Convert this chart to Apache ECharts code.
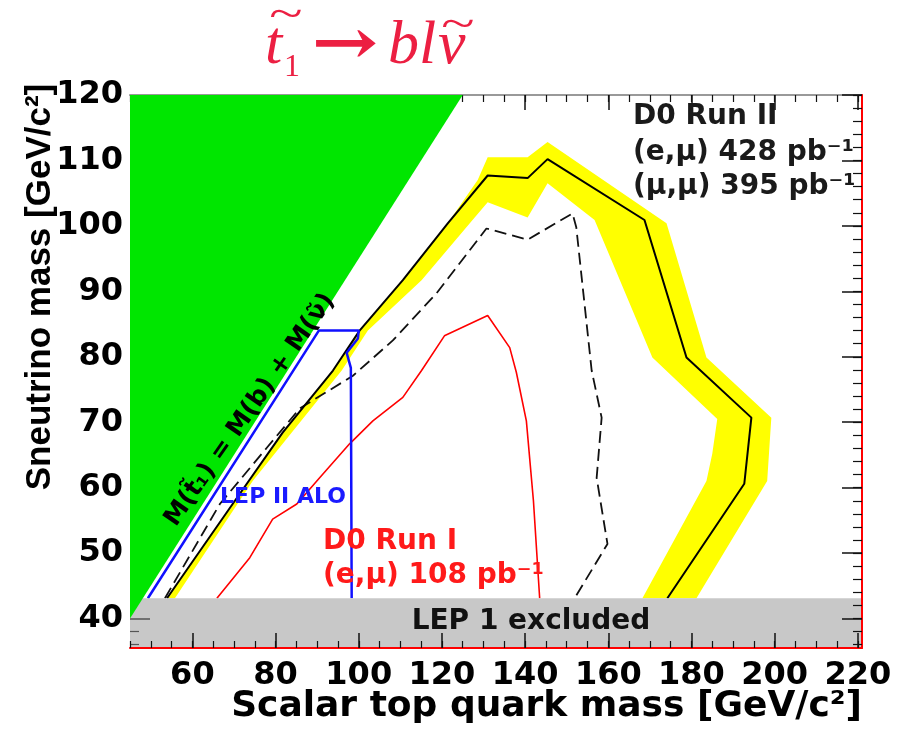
<!DOCTYPE html>
<html><head><meta charset="utf-8">
<script src="https://cdn.jsdelivr.net/npm/echarts@6/dist/echarts.min.js"></script>
<style>html,body{margin:0;padding:0;background:#fff}#c{width:897px;height:731px}</style>
</head><body><div id="c"></div>
<script>
// ---- axis ticks / labels ----
const xTickLabels = [60, 80, 100, 120, 140, 160, 180, 200, 220];
const xMinorTicks = [45, 50, 55, 60, 65, 70, 75, 80, 85, 90, 95, 100, 105, 110, 115, 120, 125, 130, 135, 140, 145, 150, 155, 160, 165, 170, 175, 180, 185, 190, 195, 200, 205, 210, 215, 220];
const yTickLabels = [40, 50, 60, 70, 80, 90, 100, 110, 120];
const yMinorTicks = [36, 38, 40, 42, 44, 46, 48, 50, 52, 54, 56, 58, 60, 62, 64, 66, 68, 70, 72, 74, 76, 78, 80, 82, 84, 86, 88, 90, 92, 94, 96, 98, 100, 102, 104, 106, 108, 110, 112, 114, 116, 118, 120];
const yLeftMajorTicks = [40];
const yLeftMinorTicks = [36, 38];

// ---- regions and contours (stop mass, sneutrino mass) ----
const kinematicRegion = [[45, 40], [45, 120], [125, 120]];
const lep1Band = [[45, 35.5], [221, 35.5], [221, 43.1], [45, 43.1]];
const lep2Contour = [[49.3, 43.1], [90.4, 84.0], [100.0, 84.0], [99.8, 82.8], [97.1, 80.6], [98.1, 78.3], [98.3, 43.1]];
const run2Solid = [[53.9, 43.1], [69.0, 56.9], [81.7, 68.4], [93.8, 77.9], [100.2, 84.0], [110.6, 91.7], [121.4, 100.4], [131.0, 107.7], [140.6, 107.3], [145.4, 110.2], [168.7, 100.9], [178.8, 79.9], [194.4, 70.7], [192.7, 60.6], [174.2, 43.1]];
const run2BandOuter = [[53.9, 43.1], [69.0, 56.9], [81.7, 68.4], [93.8, 77.9], [100.2, 84.0], [110.6, 91.7], [121.4, 100.4], [128.6, 107.0], [131.0, 110.5], [140.6, 110.5], [145.4, 112.8], [174.0, 100.4], [183.6, 79.9], [199.2, 70.7], [198.2, 61.0], [181.2, 43.1]];
const run2BandInner = [[168.2, 43.1], [183.6, 61.0], [185.0, 65.2], [186.2, 70.5], [170.6, 79.9], [156.7, 100.9], [145.4, 106.5], [140.6, 101.3], [131.0, 103.6], [126.7, 100.4], [115.1, 91.7], [102.2, 84.0], [95.9, 77.9], [74.5, 61.0], [55.8, 43.1]];
const run2Dashed = [[53.4, 43.1], [66.6, 57.5], [77.9, 66.1], [85.8, 72.1], [98.6, 77.1], [108.2, 82.5], [118.7, 89.7], [130.7, 99.6], [140.6, 97.9], [151.4, 101.9], [152.3, 99.8], [156.0, 77.9], [158.4, 70.7], [157.2, 61.5], [159.8, 51.4], [151.9, 43.1]];
const run1Contour = [[65.9, 43.1], [73.8, 49.3], [79.3, 55.2], [85.1, 57.5], [90.6, 61.5], [97.8, 66.7], [103.4, 70.2], [110.6, 73.8], [115.1, 77.9], [120.6, 83.2], [131.0, 86.3], [136.3, 81.4], [137.9, 77.6], [140.3, 70.2], [142.0, 58.0], [143.5, 43.1]];

const chart = echarts.init(document.getElementById('c'), null, {renderer: 'canvas'});

function polygonSeries(points, color, z) {
  return {
    type: 'custom', coordinateSystem: 'cartesian2d', z: z, silent: true, clip: true,
    data: points,
    renderItem: function (params, api) {
      if (params.dataIndex !== 0) return null;
      return {type: 'polygon', shape: {points: points.map(p => api.coord(p))}, style: {fill: color}};
    }
  };
}
function lineSeries(points, color, width, type, z) {
  return {
    type: 'line', data: points, symbol: 'none', silent: true, z: z, animation: false,
    lineStyle: {color: color, width: width, type: type}
  };
}

const bold = {fontFamily: 'DejaVu Sans', fontWeight: 'bold'};
const baseX = {type: 'value', min: 45, max: 221, splitLine: {show: false}};
const baseY = {type: 'value', min: 35.5, max: 120, splitLine: {show: false}};
const tickColor = '#111';

const option = {
  animation: false,
  backgroundColor: '#fff',
  grid: {left: 130, right: 35, top: 95, bottom: 83, show: false},
  xAxis: [
    Object.assign({}, baseX, {position: 'bottom', z: 10,
      axisLine: {show: true, lineStyle: {color: '#ff0000', width: 2}},
      axisTick: {show: true, inside: true, length: 15, customValues: xTickLabels, lineStyle: {color: tickColor, width: 1.5}},
      axisLabel: Object.assign({customValues: xTickLabels, fontSize: 32, color: '#000', margin: 12}, bold)}),
    Object.assign({}, baseX, {position: 'bottom', z: 10,
      axisLine: {show: false},
      axisTick: {show: true, inside: true, length: 7, customValues: xMinorTicks, lineStyle: {color: tickColor, width: 1.2}},
      axisLabel: {show: false}}),
    Object.assign({}, baseX, {position: 'top', z: 0,
      axisLine: {show: true, lineStyle: {color: '#999', width: 2}},
      axisTick: {show: true, inside: true, length: 15, customValues: xTickLabels, lineStyle: {color: tickColor, width: 1.5}},
      axisLabel: {show: false}}),
    Object.assign({}, baseX, {position: 'top', z: 0,
      axisLine: {show: false},
      axisTick: {show: true, inside: true, length: 7, customValues: xMinorTicks, lineStyle: {color: tickColor, width: 1.2}},
      axisLabel: {show: false}})
  ],
  yAxis: [
    Object.assign({}, baseY, {position: 'left', z: 10,
      axisLine: {show: false},
      axisTick: {show: true, inside: true, length: 20, customValues: yLeftMajorTicks, lineStyle: {color: '#555', width: 1.5}},
      axisLabel: Object.assign({customValues: yTickLabels, fontSize: 32, color: '#000', margin: 7, padding: [21, 0, 0, 0]}, bold)}),
    Object.assign({}, baseY, {position: 'left', z: 10,
      axisLine: {show: false},
      axisTick: {show: true, inside: true, length: 9, customValues: yLeftMinorTicks, lineStyle: {color: '#555', width: 1.2}},
      axisLabel: {show: false}}),
    Object.assign({}, baseY, {position: 'right', z: 10,
      axisLine: {show: true, lineStyle: {color: '#ff0000', width: 2}},
      axisTick: {show: true, inside: true, length: 20, customValues: yTickLabels, lineStyle: {color: tickColor, width: 1.5}},
      axisLabel: {show: false}}),
    Object.assign({}, baseY, {position: 'right', z: 10,
      axisLine: {show: false},
      axisTick: {show: true, inside: true, length: 9, customValues: yMinorTicks, lineStyle: {color: tickColor, width: 1.2}},
      axisLabel: {show: false}})
  ],
  series: [
    polygonSeries(run2BandOuter.concat(run2BandInner), '#ffff00', 1),
    lineSeries(run1Contour, '#ff0000', 1.6, 'solid', 2),
    lineSeries(run2Dashed, '#111', 1.8, [12, 6], 2),
    lineSeries(run2Solid, '#000', 2, 'solid', 2),
    lineSeries(lep2Contour, '#1010ff', 2.5, 'solid', 3),
    polygonSeries(lep1Band, '#c8c8c8', 4),
    polygonSeries(kinematicRegion, '#00e600', 5)
  ],
  graphic: [
    // title  t~1 -> b l v~
    {type: 'text', left: 265, top: 16, z: 100, style: {text: 't', font: 'italic 62px "Liberation Serif"', fill: '#ec1f42'}},
    {type: 'text', x: 286, y: 16, z: 100, scaleX: 1.4, style: {text: '~', font: '44px "Liberation Serif"', fill: '#ec1f42', align: 'center', verticalAlign: 'middle'}},
    {type: 'text', left: 284, top: 52, z: 100, style: {text: '1', font: '32px "Liberation Serif"', fill: '#ec1f42'}},
    {type: 'text', x: 345, y: 47, z: 100, scaleX: 1.25, style: {text: '\u2192', font: 'bold 64px "DejaVu Serif"', fill: '#ec1f42', align: 'center', verticalAlign: 'middle'}},
    {type: 'text', left: 388, top: 16, z: 100, style: {text: 'bl', font: 'italic 62px "Liberation Serif"', fill: '#ec1f42'}},
    {type: 'text', left: 438, top: 16, z: 100, style: {text: 'v', font: 'italic 62px "Liberation Serif"', fill: '#ec1f42'}},
    {type: 'text', x: 458, y: 26, z: 100, scaleX: 1.4, style: {text: '~', font: '44px "Liberation Serif"', fill: '#ec1f42', align: 'center', verticalAlign: 'middle'}},

    // in-plot texts
    {type: 'text', left: 633, top: 103, z: 100, style: {text: 'D0 Run II', font: 'bold 28px "DejaVu Sans"', fill: '#1a1a1a'}},
    {type: 'text', left: 633, top: 139, z: 100, style: {text: '(e,\u03bc) 428 pb\u207b\u00b9', font: 'bold 28px "DejaVu Sans"', fill: '#1a1a1a'}},
    {type: 'text', left: 633, top: 173, z: 100, style: {text: '(\u03bc,\u03bc) 395 pb\u207b\u00b9', font: 'bold 28px "DejaVu Sans"', fill: '#1a1a1a'}},
    {type: 'text', left: 323, top: 528, z: 100, style: {text: 'D0 Run I', font: 'bold 28px "DejaVu Sans"', fill: '#ff1a1a'}},
    {type: 'text', left: 323, top: 562, z: 100, style: {text: '(e,\u03bc) 108 pb\u207b\u00b9', font: 'bold 28px "DejaVu Sans"', fill: '#ff1a1a'}},
    {type: 'text', x: 283, y: 497, z: 100, style: {text: 'LEP II ALO', font: 'bold 22px "DejaVu Sans"', fill: '#1a1aff', align: 'center', verticalAlign: 'middle'}},
    {type: 'text', x: 531, y: 622, z: 100, style: {text: 'LEP 1 excluded', font: 'bold 28px "DejaVu Sans"', fill: '#111', align: 'center', verticalAlign: 'middle'}},
    {type: 'text', x: 250, y: 410, z: 100, rotation: 55 * Math.PI / 180, style: {text: 'M(t\u0303\u2081) = M(b) + M(\u03bd\u0303)', font: 'bold 25px "DejaVu Sans"', fill: '#000', align: 'center', verticalAlign: 'middle'}},

    // axis titles
    {type: 'text', x: 862, y: 707, z: 100, style: {text: 'Scalar top quark mass [GeV/c\u00b2]', font: 'bold 36px "DejaVu Sans"', fill: '#000', align: 'right', verticalAlign: 'middle'}},
    {type: 'text', x: 40, y: 287, z: 100, rotation: Math.PI / 2, style: {text: 'Sneutrino mass [GeV/c\u00b2]', font: 'bold 35px "Liberation Sans"', fill: '#000', align: 'center', verticalAlign: 'middle'}}
  ]
};
chart.setOption(option);
</script></body></html>
